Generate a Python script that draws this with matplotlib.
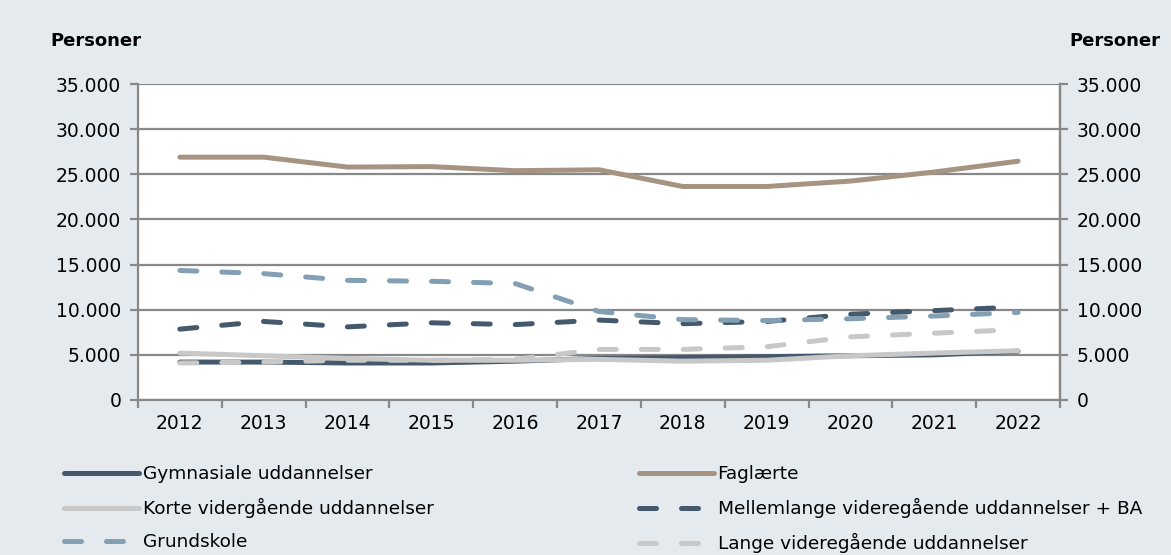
import numpy as np
import matplotlib.pyplot as plt
from matplotlib.ticker import FuncFormatter

years = ["2012", "2013", "2014", "2015", "2016", "2017", "2018", "2019", "2020", "2021", "2022"]

gymnasiale = [4200, 4200, 4100, 4100, 4300, 4600, 4700, 4800, 4900, 5000, 5400]
faglaerte = [26900, 26900, 25800, 25850, 25400, 25500, 23650, 23650, 24250, 25250, 26450]
korte = [5200, 4900, 4600, 4400, 4400, 4500, 4300, 4400, 4900, 5200, 5450]
mellemlange = [7850, 8700, 8100, 8550, 8350, 8850, 8450, 8700, 9500, 9900, 10300]
grundskole = [14350, 14000, 13250, 13150, 12900, 9800, 8900, 8800, 9000, 9300, 9700]
lange = [4100, 4200, 4400, 4400, 4500, 5600, 5600, 5900, 7000, 7400, 7800]

bg = "#e5eaef"
grid_col = "#888888"
dash = (0, (3.4, 5))

fig = plt.figure(figsize=(11.71, 5.55), dpi=100, facecolor=bg)
ax = fig.add_axes([0.1178, 0.2793, 0.7874, 0.5693])
ax.set_facecolor("white")

x = np.arange(len(years))
lw = 3.6
series = [
    ("Gymnasiale uddannelser", gymnasiale, "#44596b", "-"),
    ("Faglærte", faglaerte, "#a69482", "-"),
    ("Korte vidergående uddannelser", korte, "#c8c8c8", "-"),
    ("Mellemlange videregående uddannelser + BA", mellemlange, "#44596b", dash),
    ("Grundskole", grundskole, "#829fb4", dash),
    ("Lange videregående uddannelser", lange, "#c8c8c8", dash),
]
lines = {}
for name, vals, col, ls in series:
    ln, = ax.plot(x, vals, color=col, lw=lw, linestyle=ls,
                  solid_capstyle="round", dash_capstyle="round", label=name)
    lines[name] = ln

ax.set_xlim(-0.5, len(years) - 0.5)
ax.set_ylim(0, 35000)
ax.set_yticks(np.arange(0, 35001, 5000))
fmt = FuncFormatter(lambda v, p: f"{int(v):,}".replace(",", "."))
ax.yaxis.set_major_formatter(fmt)
ax.yaxis.grid(True, color=grid_col, lw=1.6)
ax.set_axisbelow(True)

# ticks sit between the years, labels in the middle
ax.set_xticks(np.arange(-0.5, len(years)), labels=[""] * (len(years) + 1))
ax.set_xticks(x, labels=years, minor=True)
ax.tick_params(axis="x", which="major", length=6, width=1.6, color=grid_col)
ax.tick_params(axis="x", which="minor", length=0, labelsize=13.5, pad=10)
ax.tick_params(axis="y", length=6, width=1.6, color=grid_col, labelsize=13.5, pad=6)

ax.spines["top"].set_visible(False)
for s in ["left", "bottom", "right"]:
    ax.spines[s].set_color(grid_col)
    ax.spines[s].set_linewidth(1.6)

ax2 = ax.twinx()
ax2.set_ylim(0, 35000)
ax2.set_yticks(np.arange(0, 35001, 5000))
ax2.yaxis.set_major_formatter(fmt)
ax2.tick_params(axis="y", length=6, width=1.6, color=grid_col, labelsize=13.5, pad=6)
for s in ["top", "left", "bottom"]:
    ax2.spines[s].set_visible(False)
ax2.spines["right"].set_color(grid_col)
ax2.spines["right"].set_linewidth(1.6)

fig.text(50 / 1171, 1 - 41 / 555, "Personer", fontsize=13, fontweight="bold", va="center", ha="left")
fig.text(1160 / 1171, 1 - 41 / 555, "Personer", fontsize=13, fontweight="bold", va="center", ha="right")

left_names = ["Gymnasiale uddannelser", "Korte vidergående uddannelser", "Grundskole"]
right_names = ["Faglærte", "Mellemlange videregående uddannelser + BA", "Lange videregående uddannelser"]
common = dict(frameon=False, fontsize=13.3, handlelength=4.05, handletextpad=0.2,
              labelspacing=0.82, borderaxespad=0, borderpad=0, loc="upper left")
leg1 = fig.legend([lines[n] for n in left_names], left_names,
                  bbox_to_anchor=(64 / 1171, 1 - 465 / 555), **common)
leg2 = fig.legend([lines[n] for n in right_names], right_names,
                  bbox_to_anchor=(639 / 1171, 1 - 465 / 555), **common)

fig.savefig("out.png", dpi=100, facecolor=bg)
